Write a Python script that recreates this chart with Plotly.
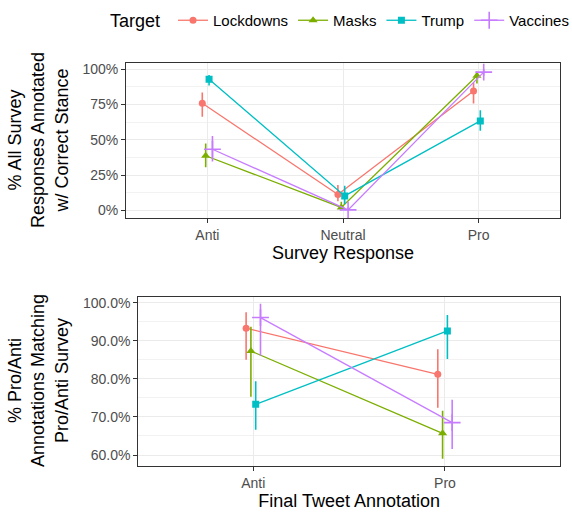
import plotly.graph_objects as go

targets = ["Lockdowns", "Masks", "Trump", "Vaccines"]
colors = ["#F8766D", "#7CAE00", "#00BFC4", "#C77CFF"]
symbols = ["circle", "triangle-up", "square", "cross-thin-open"]
sizes = [7, 8, 7, 12]

# Top panel: survey response
top_cats = ["Anti", "Neutral", "Pro"]
top_y = {
    "Lockdowns": [0.759, 0.112, 0.847],
    "Masks": [0.387, 0.020, 0.955],
    "Trump": [0.930, 0.102, 0.634],
    "Vaccines": [0.433, 0.003, 0.980],
}
top_lo = {
    "Lockdowns": [0.664, 0.065, 0.757],
    "Masks": [0.305, 0.000, 0.900],
    "Trump": [0.885, 0.045, 0.565],
    "Vaccines": [0.347, 0.000, 0.955],
}
top_hi = {
    "Lockdowns": [0.836, 0.180, 0.905],
    "Masks": [0.473, 0.060, 0.983],
    "Trump": [0.960, 0.175, 0.710],
    "Vaccines": [0.527, 0.020, 1.000],
}

# Bottom panel: final tweet annotation
bot_cats = ["Anti", "Pro"]
bot_y = {
    "Lockdowns": [0.933, 0.812],
    "Masks": [0.873, 0.657],
    "Trump": [0.733, 0.926],
    "Vaccines": [0.961, 0.685],
}
bot_lo = {
    "Lockdowns": [0.850, 0.724],
    "Masks": [0.753, 0.590],
    "Trump": [0.666, 0.852],
    "Vaccines": [0.861, 0.616],
}
bot_hi = {
    "Lockdowns": [0.975, 0.878],
    "Masks": [0.937, 0.716],
    "Trump": [0.794, 0.968],
    "Vaccines": [0.997, 0.745],
}

dodge = [-0.0375, -0.0125, 0.0125, 0.0375]

fig = go.Figure()

def add_panel(cats, ys, los, his, xa, ya, showlegend):
    for i, t in enumerate(targets):
        xs = [k + 1 + dodge[i] for k in range(len(cats))]
        y = ys[t]
        plus = [h - v for h, v in zip(his[t], y)]
        minus = [v - l for v, l in zip(y, los[t])]
        fig.add_trace(go.Scatter(
            x=xs, y=y, mode="lines+markers", name=t,
            legendgroup=t, showlegend=showlegend,
            xaxis=xa, yaxis=ya,
            line=dict(color=colors[i], width=1.3),
            marker=dict(symbol=symbols[i], size=sizes[i], color=colors[i],
                        line=dict(color=colors[i], width=1.6 if i == 3 else 0)),
            error_y=dict(type="data", array=plus, arrayminus=minus,
                         width=0, thickness=1.6, color=colors[i]),
        ))

add_panel(top_cats, top_y, top_lo, top_hi, "x", "y", True)
add_panel(bot_cats, bot_y, bot_lo, bot_hi, "x2", "y2", False)

W, H = 572, 513
tick_font = dict(family="Liberation Sans, Arial, sans-serif", size=14, color="#4D4D4D")
title_font = dict(family="Liberation Sans, Arial, sans-serif", size=18, color="#000000")

common_x = dict(showline=True, linecolor="#333333", linewidth=1, mirror=True,
                ticks="outside", ticklen=4, tickcolor="#333333", tickwidth=1,
                showgrid=True, gridcolor="#EBEBEB", gridwidth=1.3,
                zeroline=False, tickfont=tick_font, title_font=title_font)
common_y = dict(showline=True, linecolor="#333333", linewidth=1, mirror=True,
                ticks="outside", ticklen=4, tickcolor="#333333", tickwidth=1,
                showgrid=True, gridcolor="#EBEBEB", gridwidth=1.3,
                zeroline=False, tickfont=tick_font)

fig.update_layout(
    width=W, height=H,
    margin=dict(l=0, r=0, t=0, b=0, autoexpand=False),
    paper_bgcolor="white", plot_bgcolor="white",
    font=dict(family="Liberation Sans, Arial, sans-serif"),
    xaxis=dict(common_x, domain=[126 / W, 560 / W], range=[0.4, 3.6],
               tickmode="array", tickvals=[1, 2, 3], ticktext=top_cats,
               anchor="y", title=dict(text="Survey Response", standoff=4)),
    yaxis=dict(common_y, domain=[1 - 218 / H, 1 - 62.7 / H], range=[-0.0546, 1.047],
               tickmode="array", tickvals=[0, 0.25, 0.5, 0.75, 1.0],
               ticktext=["0%", "25%", "50%", "75%", "100%"], anchor="x",
               minor=dict(tickmode="array", tickvals=[0.125, 0.375, 0.625, 0.875],
                          showgrid=True, gridcolor="#F2F2F2", gridwidth=0.8, ticks="")),
    xaxis2=dict(common_x, domain=[138.3 / W, 560 / W], range=[0.4, 2.6],
                tickmode="array", tickvals=[1, 2], ticktext=bot_cats,
                anchor="y2", title=dict(text="Final Tweet Annotation", standoff=4)),
    yaxis2=dict(common_y, domain=[1 - 466 / H, 1 - 296.7 / H], range=[0.5711, 1.0158],
                tickmode="array", tickvals=[0.6, 0.7, 0.8, 0.9, 1.0],
                ticktext=["60.0%", "70.0%", "80.0%", "90.0%", "100.0%"], anchor="x2",
                minor=dict(tickmode="array", tickvals=[0.65, 0.75, 0.85, 0.95],
                           showgrid=True, gridcolor="#F2F2F2", gridwidth=0.8, ticks="")),
    legend=dict(orientation="h", x=341 / W, xanchor="center", y=1 - 21 / H, yanchor="middle",
                title=dict(text="Target ", font=dict(size=18, color="#000000")),
                font=dict(size=15, color="#000000"), itemwidth=30, tracegroupgap=0,
                bgcolor="rgba(0,0,0,0)"),
    annotations=[
        dict(text="% All Survey<br>Responses Annotated<br>w/ Correct Stance",
             xref="paper", yref="paper", x=38 / W, y=1 - 140 / H, textangle=-90,
             showarrow=False, font=title_font, xanchor="center", yanchor="middle"),
        dict(text="% Pro/Anti<br>Annotations Matching<br>Pro/Anti Survey",
             xref="paper", yref="paper", x=38 / W, y=1 - 381 / H, textangle=-90,
             showarrow=False, font=title_font, xanchor="center", yanchor="middle"),
    ],
)

fig.write_html(
    "out.html",
    config={"displayModeBar": False},
    post_script="document.body.style.margin='0';document.body.style.overflow='hidden';",
)
